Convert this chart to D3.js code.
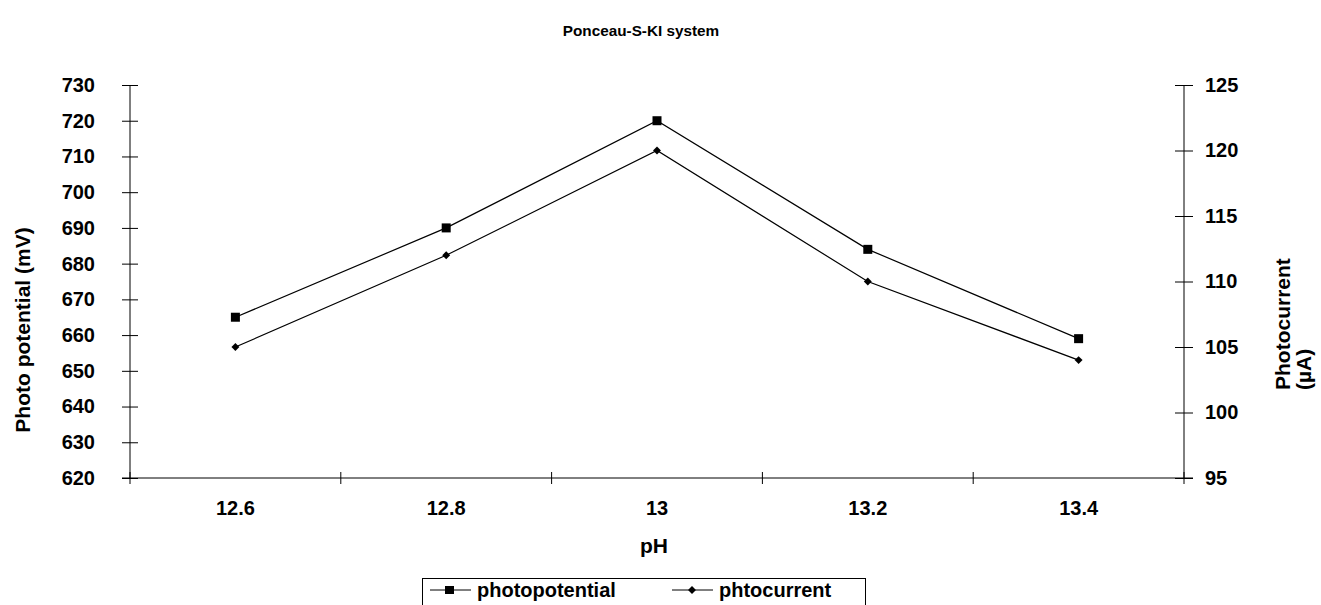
<!DOCTYPE html>
<html>
<head>
<meta charset="utf-8">
<script src="https://cdn.jsdelivr.net/npm/d3@7"></script>
<style>
    body { margin: 0; background: #fff; }
    svg { font-family: "Liberation Sans", Arial, sans-serif; font-weight: bold; }
</style>
</head>
<body>
<div id="chart"></div>
<script>
const categories = ['12.6', '12.8', '13', '13.2', '13.4'];
const photopotential = [665, 690, 720, 684, 659];
const photocurrent = [105, 112, 120, 110, 104];
const leftTicks = [620, 630, 640, 650, 660, 670, 680, 690, 700, 710, 720, 730];
const rightTicks = [95, 100, 105, 110, 115, 120, 125];

const width = 1321, height = 605;
const margin = { top: 85, right: 137, bottom: 127, left: 130 };

const svg = d3.select('#chart').append('svg')
    .attr('width', width)
    .attr('height', height);

const x = d3.scaleBand()
    .domain(categories)
    .range([margin.left, width - margin.right]);

const yLeft = d3.scaleLinear()
    .domain([620, 730])
    .range([height - margin.bottom, margin.top]);

const yRight = d3.scaleLinear()
    .domain([95, 125])
    .range([height - margin.bottom, margin.top]);

const fontSize = 20;
const titleSize = 21;

// left axis
const leftAxis = svg.append('g')
    .attr('transform', `translate(${margin.left},0)`)
    .call(d3.axisLeft(yLeft).tickValues(leftTicks).tickSize(8).tickPadding(27));
leftAxis.select('.domain').attr('d', `M0,${yLeft(730)}V${yLeft(620)}`);
leftAxis.selectAll('.tick line').attr('x1', 8).attr('x2', -8);

// right axis
const rightAxis = svg.append('g')
    .attr('transform', `translate(${width - margin.right},0)`)
    .call(d3.axisRight(yRight).tickValues(rightTicks).tickSize(8).tickPadding(13));
rightAxis.select('.domain').attr('d', `M0,${yRight(125)}V${yRight(95)}`);
rightAxis.selectAll('.tick line').attr('x1', -9).attr('x2', 9);

// x axis
const xAxis = svg.append('g')
    .attr('transform', `translate(0,${height - margin.bottom})`)
    .call(d3.axisBottom(x).tickSize(0).tickPadding(23));
xAxis.select('.domain').attr('d', `M${margin.left - 8},0H${width - margin.right + 9}`);

const boundaries = categories.map(c => x(c)).concat([x.range()[1]]);
xAxis.selectAll('.bnd')
    .data(boundaries)
    .enter()
    .append('line')
    .attr('x1', d => d)
    .attr('x2', d => d)
    .attr('y1', -6)
    .attr('y2', 6)
    .attr('stroke', 'black');

svg.selectAll('.tick text')
    .attr('font-size', fontSize)
    .attr('font-weight', 'bold')
    .attr('font-family', '"Liberation Sans", Arial, sans-serif')
    .attr('fill', 'black');
svg.selectAll('.domain, .tick line').attr('stroke', 'black');

// lines
const cx = d => x(d) + x.bandwidth() / 2;

const lineLeft = d3.line()
    .x((d, i) => cx(categories[i]))
    .y(d => yLeft(d));
const lineRight = d3.line()
    .x((d, i) => cx(categories[i]))
    .y(d => yRight(d));

svg.append('path')
    .datum(photopotential)
    .attr('d', lineLeft)
    .attr('fill', 'none')
    .attr('stroke', 'black')
    .attr('stroke-width', 1.2);

svg.append('path')
    .datum(photocurrent)
    .attr('d', lineRight)
    .attr('fill', 'none')
    .attr('stroke', 'black')
    .attr('stroke-width', 1.2);

svg.selectAll('.sq')
    .data(photopotential)
    .enter()
    .append('rect')
    .attr('x', (d, i) => cx(categories[i]) - 4.5)
    .attr('y', d => yLeft(d) - 4.5)
    .attr('width', 9)
    .attr('height', 9)
    .attr('fill', 'black');

const diamond = d3.symbol().type(d3.symbolDiamond2).size(40);
svg.selectAll('.dm')
    .data(photocurrent)
    .enter()
    .append('path')
    .attr('d', diamond)
    .attr('transform', (d, i) => `translate(${cx(categories[i])},${yRight(d)})`)
    .attr('fill', 'black');

// title & labels
svg.append('text')
    .attr('x', 641)
    .attr('y', 36)
    .attr('text-anchor', 'middle')
    .attr('font-size', 15.3)
    .text('Ponceau-S-KI system');

svg.append('text')
    .attr('x', 654)
    .attr('y', 553)
    .attr('text-anchor', 'middle')
    .attr('font-size', titleSize)
    .text('pH');

svg.append('text')
    .attr('transform', 'translate(30,330) rotate(-90)')
    .attr('text-anchor', 'middle')
    .attr('font-size', titleSize)
    .text('Photo potential (mV)');

const rlab = svg.append('text')
    .attr('transform', 'translate(1290,390) rotate(-90)')
    .attr('text-anchor', 'start')
    .attr('font-size', titleSize);
rlab.append('tspan').attr('x', 0).attr('dy', 0).text('Photocurrent');
rlab.append('tspan').attr('x', 0).attr('dy', 21).text('(µA)');

// legend
const legend = svg.append('g');
legend.append('rect')
    .attr('x', 422.5)
    .attr('y', 578.5)
    .attr('width', 443)
    .attr('height', 40)
    .attr('fill', 'white')
    .attr('stroke', 'black');

const legendItems = [
    { name: 'photopotential', x: 430, marker: 'square' },
    { name: 'phtocurrent', x: 672, marker: 'diamond' }
];
legendItems.forEach(item => {
    const g = legend.append('g').attr('transform', `translate(${item.x},590)`);
    g.append('line').attr('x1', 0).attr('x2', 41).attr('y1', 0).attr('y2', 0).attr('stroke', 'black');
    if (item.marker === 'square') {
        g.append('rect').attr('x', 15).attr('y', -4).attr('width', 9).attr('height', 8).attr('fill', 'black');
    } else {
        g.append('path').attr('d', diamond).attr('transform', 'translate(20,0)').attr('fill', 'black');
    }
    g.append('text')
        .attr('x', 47)
        .attr('y', 7)
        .attr('font-size', fontSize)
        .text(item.name);
});
</script>
</body>
</html>
